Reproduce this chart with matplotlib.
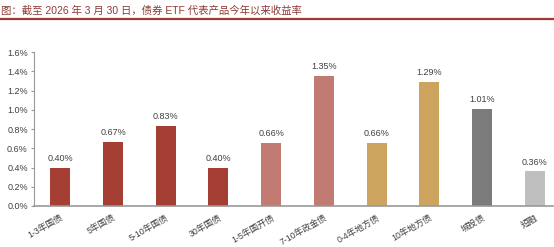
import numpy as np
from matplotlib import pyplot as plt

plt.rcParams['font.family'] = ['Liberation Sans', 'Noto Sans CJK SC', 'DejaVu Sans']

title = "图：截至 2026 年 3 月 30 日，债券 ETF 代表产品今年以来收益率"
categories = ["1-3年国债", "5年国债", "5-10年国债", "30年国债", "1-5年国开债",
              "7-10年政金债", "0-4年地方债", "10年地方债", "城投债", "短融"]
returns = [0.40, 0.67, 0.83, 0.40, 0.66, 1.35, 0.66, 1.29, 1.01, 0.36]
bar_colors = ["#A63F33", "#A63F33", "#A63F33", "#A63F33", "#C27B72",
              "#C27B72", "#CCA45E", "#CCA45E", "#7B7B7B", "#BFBFBF"]

fig = plt.figure(figsize=(5.54, 2.47), dpi=100)
fig.text(0.002, 0.958, title, fontsize=7.5, color="#8E3A34", va="center", ha="left")
fig.add_artist(plt.Line2D([0, 1], [0.925, 0.925], color="#9C3A33", linewidth=1.6))

ax = fig.add_axes([0.0614, 0.166, 0.937, 0.623])
x = np.arange(len(categories))
bars = ax.bar(x, returns, width=0.38, color=bar_colors)
for xi, v in zip(x, returns):
    ax.text(xi, v + 0.05, f"{v:.2f}%", ha="center", va="bottom", fontsize=6.5, color="#404040")

ax.set_xlim(-0.5, 9.35)
ax.set_ylim(0, 1.6)
ax.set_yticks(np.arange(0, 1.61, 0.2))
ax.set_yticklabels([f"{t:.1f}%" for t in np.arange(0, 1.61, 0.2)], fontsize=6.5, color="#404040")
ax.set_xticks(x)
ax.set_xticklabels(categories, rotation=30, ha="right", rotation_mode="anchor", fontsize=6.3, color="#404040")
ax.tick_params(axis="x", length=0, pad=5)
ax.tick_params(axis="y", length=2.5, color="#999999", pad=2)
for s in ["top", "right"]:
    ax.spines[s].set_visible(False)
ax.spines["left"].set_color("#999999")
ax.spines["left"].set_linewidth(0.8)
ax.spines["bottom"].set_color("#999999")
ax.spines["bottom"].set_linewidth(1.2)

fig.savefig("out.png", dpi=100)
